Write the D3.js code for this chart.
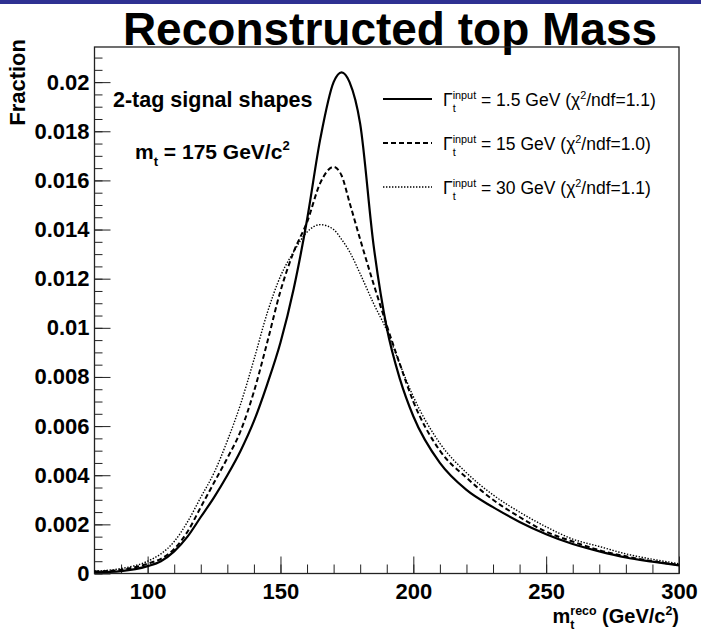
<!DOCTYPE html>
<html>
<head>
<meta charset="utf-8">
<script src="https://cdn.jsdelivr.net/npm/d3@7"></script>
<style>
  body { margin: 0; background: #fff; }
  svg text { font-family: "Liberation Sans", Arial, Helvetica, sans-serif; white-space: pre; }
</style>
</head>
<body>
<script>
// reconstructed top mass, signal shapes for 3 input widths
var massGeV   = [80, 90, 100, 105, 110, 115, 120, 125, 130, 135, 140, 145, 150, 155, 160, 165, 170, 173, 176, 180, 185, 190, 195, 200, 210, 220, 230, 240, 250, 260, 270, 280, 290, 300];
var fracW1p5  = [0.00005, 0.0001, 0.0003, 0.0005, 0.0009, 0.0015, 0.0023, 0.0031, 0.0040, 0.0050, 0.0062, 0.0077, 0.0094, 0.0116, 0.0144, 0.0177, 0.0200, 0.0204, 0.0200, 0.0183, 0.0134, 0.0100, 0.0079, 0.0064, 0.0045, 0.0034, 0.0027, 0.0021, 0.0016, 0.0012, 0.0009, 0.00065, 0.00048, 0.00033];
var fracW15   = [0.00008, 0.00015, 0.0004, 0.0006, 0.0010, 0.0017, 0.0027, 0.0037, 0.0047, 0.0058, 0.0074, 0.0094, 0.0115, 0.0131, 0.0143, 0.0159, 0.01655, 0.0162, 0.0151, 0.0136, 0.0118, 0.0101, 0.0085, 0.0070, 0.0050, 0.0039, 0.0030, 0.0023, 0.0017, 0.0013, 0.00095, 0.0007, 0.0005, 0.00035];
var fracW30   = [0.0001, 0.0002, 0.0005, 0.0008, 0.0013, 0.0021, 0.0031, 0.0041, 0.0054, 0.0069, 0.0087, 0.0106, 0.0121, 0.0131, 0.0139, 0.0142, 0.0140, 0.0136, 0.0131, 0.0122, 0.0110, 0.0099, 0.0085, 0.0072, 0.0053, 0.0041, 0.0032, 0.0025, 0.0019, 0.0014, 0.0011, 0.0008, 0.00058, 0.0004];

var legendWidths = ["1.5", "15", "30"];
var legendChi2   = ["1.1", "1.0", "1.1"];
var lineDash     = [null, "5,3", "1.4,1.6"];
var lineWidth    = [2.2, 2, 1.4];

var xTicksMajor = [100, 150, 200, 250, 300];
var xTicksMinor = d3.range(90, 301, 10);
var yTicksMajor = d3.range(0, 11).map(function(i){ return i * 0.002; });
var yTicksMinor = d3.range(0, 43).map(function(i){ return i * 0.0005; });

var W = 701, H = 632;
var fL = 94.5, fR = 679, fT = 47, fB = 573.5;

var svg = d3.select("body").append("svg")
    .attr("width", W)
    .attr("height", H);

svg.append("rect").attr("x",0).attr("y",0).attr("width",W).attr("height",4).attr("fill","#2e3192");

svg.append("text")
    .attr("x", 390)
    .attr("y", 45)
    .attr("text-anchor","middle")
    .style("font-size","46px")
    .style("font-weight","bold")
    .text("Reconstructed top Mass");

var x = d3.scaleLinear().domain([80, 300]).range([fL, fR]);
var y = d3.scaleLinear().domain([0, 0.02143]).range([fB, fT]);

// compose text with sub/superscripts, measured piece by piece
function rich(parent, px, py, pieces, size, weight, anchor){
    var g = parent.append("g");
    var cx = 0;
    pieces.forEach(function(p){
        if(typeof p === "string"){
            var t = g.append("text").attr("x",cx).attr("y",0)
                .style("font-size", size+"px").style("font-weight",weight).text(p);
            cx += t.node().getComputedTextLength();
        } else {
            var w = 0;
            if(p.sub){
                var s = g.append("text").attr("x",cx).attr("y",size*0.32)
                    .style("font-size",(size*0.62)+"px").style("font-weight",weight).text(p.sub);
                w = Math.max(w, s.node().getComputedTextLength());
            }
            if(p.sup){
                var u = g.append("text").attr("x",cx).attr("y",-size*0.42)
                    .style("font-size",(size*0.62)+"px").style("font-weight",weight).text(p.sup);
                w = Math.max(w, u.node().getComputedTextLength());
            }
            cx += w;
        }
    });
    var dx = anchor == "end" ? -cx : (anchor == "middle" ? -cx/2 : 0);
    g.attr("transform","translate(" + (px+dx) + "," + py + ")");
    return g;
}

// minor ticks
svg.append("g")
    .attr("transform","translate(" + fL + ",0)")
    .call(d3.axisLeft(y).tickValues(yTicksMinor).tickSizeInner(-8).tickSizeOuter(0).tickFormat(""))
    .call(function(g){ g.select(".domain").remove(); });
svg.append("g")
    .attr("transform","translate(0," + fB + ")")
    .call(d3.axisBottom(x).tickValues(xTicksMinor).tickSizeInner(-9).tickSizeOuter(0).tickFormat(""))
    .call(function(g){ g.select(".domain").remove(); });

// major ticks + labels
var yAxis = svg.append("g")
    .attr("transform","translate(" + fL + ",0)")
    .call(d3.axisLeft(y).tickValues(yTicksMajor).tickSizeInner(-16).tickSizeOuter(0).tickPadding(5)
        .tickFormat(function(d){ return String(+d.toFixed(4)); }));
yAxis.select(".domain").remove();
yAxis.selectAll("text").style("font-size","22px").style("font-weight","bold").attr("fill","#000");

var xAxis = svg.append("g")
    .attr("transform","translate(0," + fB + ")")
    .call(d3.axisBottom(x).tickValues(xTicksMajor).tickSizeInner(-17).tickSizeOuter(0).tickPadding(6)
        .tickFormat(d3.format("d")));
xAxis.select(".domain").remove();
xAxis.selectAll("text").style("font-size","22px").style("font-weight","bold").attr("fill","#000").attr("dy","0.9em");

svg.selectAll(".tick line").attr("stroke","#222").attr("stroke-width",1);

// frame
svg.append("rect")
    .attr("x", fL).attr("y", fT)
    .attr("width", fR - fL).attr("height", fB - fT)
    .attr("fill","none").attr("stroke","#222").attr("stroke-width",1.3);

// curves
var series = [fracW1p5, fracW15, fracW30];
var line = d3.line()
    .x(function(d){ return x(d[0]); })
    .y(function(d){ return y(d[1]); })
    .curve(d3.curveMonotoneX);

series.forEach(function(vals, i){
    svg.append("path")
        .datum(d3.zip(massGeV, vals))
        .attr("d", line)
        .attr("fill","none")
        .attr("stroke","#000")
        .attr("stroke-width", lineWidth[i])
        .attr("stroke-dasharray", lineDash[i]);
});

// axis titles
svg.append("text")
    .attr("transform","translate(25,39) rotate(-90)")
    .attr("text-anchor","end")
    .style("font-size","22px")
    .style("font-weight","bold")
    .text("Fraction");

rich(svg, 679, 623, ["m", {sub:"t", sup:"reco"}, " (GeV/c", {sup:"2"}, ")"], 20, "bold", "end");

// labels inside
svg.append("text")
    .attr("x", 113).attr("y", 107)
    .style("font-size","21.5px").style("font-weight","bold")
    .text("2-tag signal shapes");
rich(svg, 135, 159, ["m", {sub:"t"}, " = 175 GeV/c", {sup:"2"}], 21, "bold", "start");

// legend
legendWidths.forEach(function(w, i){
    var ly = 99 + i*44;
    svg.append("line")
        .attr("x1",383).attr("x2",432).attr("y1",ly).attr("y2",ly)
        .attr("stroke","#000").attr("stroke-width",lineWidth[i])
        .attr("stroke-dasharray", lineDash[i]);
    rich(svg, 443, ly + 7, ["\u0393", {sub:"t", sup:"input"}, " = " + w + " GeV (\u03c7", {sup:"2"}, "/ndf=" + legendChi2[i] + ")"], 17.5, "normal", "start");
});
</script>
</body>
</html>
